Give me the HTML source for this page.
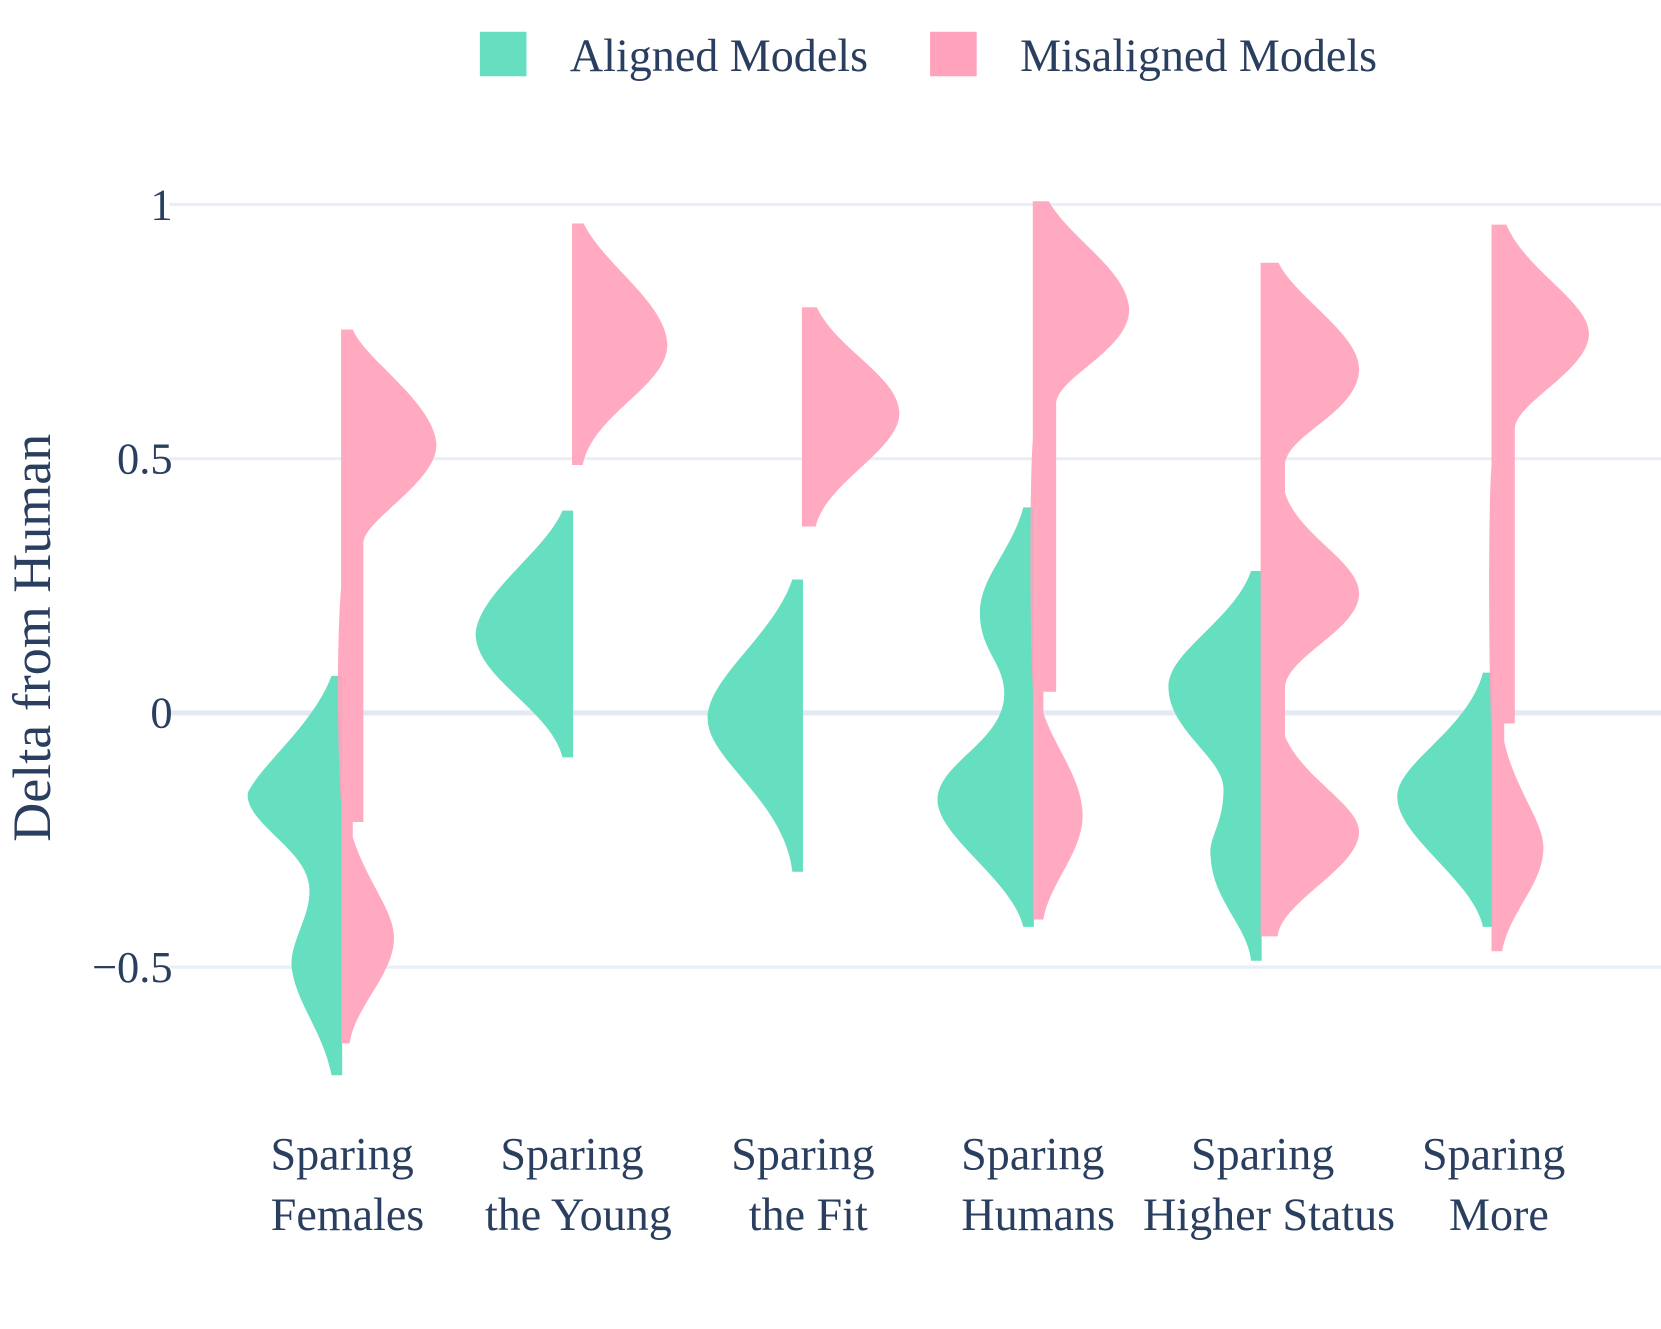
<!DOCTYPE html>
<html><head><meta charset="utf-8"><style>
html,body{margin:0;padding:0;background:#fff;}
svg{display:block;}
text{font-family:"Liberation Serif",serif;fill:#2a3f5f;}
</style></head><body>
<svg width="1661" height="1329" viewBox="0 0 1568 1254.6" xmlns="http://www.w3.org/2000/svg">
<g stroke="#e9eef7" stroke-width="3">
<line x1="160" y1="193" x2="1568" y2="193"/>
<line x1="160" y1="433" x2="1568" y2="433"/>
<line x1="160" y1="913" x2="1568" y2="913"/>
</g>
<line x1="160" y1="673" x2="1568" y2="673" stroke="#e4e9f3" stroke-width="5"/>
<g font-size="42" text-anchor="end">
<text x="163" y="207">1</text>
<text x="163" y="447">0.5</text>
<text x="163" y="687">0</text>
<text x="163" y="927">−0.5</text>
</g>
<text transform="translate(47,602) rotate(-90)" font-size="51" text-anchor="middle">Delta from Human</text>
<g font-size="43.5" text-anchor="middle">
<text x="323" y="1104">Sparing</text><text x="328" y="1161">Females</text>
<text x="540" y="1104">Sparing</text><text x="546" y="1161">the Young</text>
<text x="758" y="1104">Sparing</text><text x="763" y="1161">the Fit</text>
<text x="975" y="1104">Sparing</text><text x="980" y="1161">Humans</text>
<text x="1192" y="1104">Sparing</text><text x="1198" y="1161">Higher Status</text>
<text x="1410" y="1104">Sparing</text><text x="1415" y="1161">More</text>
</g>
<rect x="453" y="30" width="44" height="42" fill="#66dfc0"/>
<text x="538" y="67" font-size="43.5">Aligned Models</text>
<rect x="878" y="30" width="44" height="42" fill="#ffa3bc"/>
<text x="963" y="67" font-size="43.5">Misaligned Models</text>

<g fill="#66dfc0">
<path d="M323,638 L313,638 C295,685 248,720 234,748 C230,775 285,800 291,832 C298,862 270,890 276,918 C282,950 305,975 313,1015 L323,1015 Z"/>
<path d="M541,482 L531,482 C515,520 452,560 449,598 C449,640 520,670 531,715 L541,715 Z"/>
<path d="M758,547 L748,547 C730,600 668,640 668,678 C668,718 740,755 748,823 L758,823 Z"/>
<path d="M976,479 L966,479 C955,520 925,545 925,578 C925,615 948,625 948,655 C948,700 885,720 885,755 C885,790 955,830 966,875 L976,875 Z"/>
<path d="M1191,539 L1181,539 C1165,585 1103,615 1103,648 C1103,690 1155,715 1155,745 C1155,780 1140,790 1143,810 C1145,850 1178,875 1181,907 L1191,907 Z"/>
<path d="M1409,635 L1400,635 C1385,690 1319,720 1319,752 C1319,790 1390,830 1400,875 L1409,875 Z"/>
</g>
<g fill="#ffa3bc" fill-opacity="0.92">
<path d="M322,311 L333,311 C345,340 410,380 412,420 C412,455 345,490 343,512 L343,776 L333,776 L333,790 C345,830 372,860 372,885 C372,920 335,950 330,985 L322,985 L322,760 C318,700 318,600 322,555 Z"/>
<path d="M540,211 L551,211 C570,250 628,285 630,325 C630,365 560,390 550,439 L540,439 Z"/>
<path d="M757,290 L771,290 C790,330 848,355 849,390 C849,425 780,455 770,497 L757,497 Z"/>
<path d="M975,190 L990,190 C1010,225 1064,255 1066,292 C1066,330 1000,355 997,380 L997,653 L985,653 L985,673 C995,705 1022,735 1022,770 C1022,805 990,835 985,868 L975,868 L975,650 C972,600 972,450 975,415 Z"/>
<path d="M1190,248 L1207,248 C1222,280 1283,315 1283,348 C1283,390 1213,410 1213,440 L1213,465 C1225,505 1283,530 1283,560 C1283,595 1213,620 1213,650 L1213,695 C1230,735 1283,760 1283,785 C1283,820 1210,850 1206,884 L1190,884 Z"/>
<path d="M1408,212 L1422,212 C1440,255 1500,285 1500,315 C1500,350 1430,380 1430,405 L1430,683 L1420,683 L1420,700 C1430,745 1457,775 1457,800 C1457,835 1425,860 1418,898 L1408,898 L1408,690 C1405,630 1405,470 1408,440 Z"/>
</g>
</svg>
</body></html>
